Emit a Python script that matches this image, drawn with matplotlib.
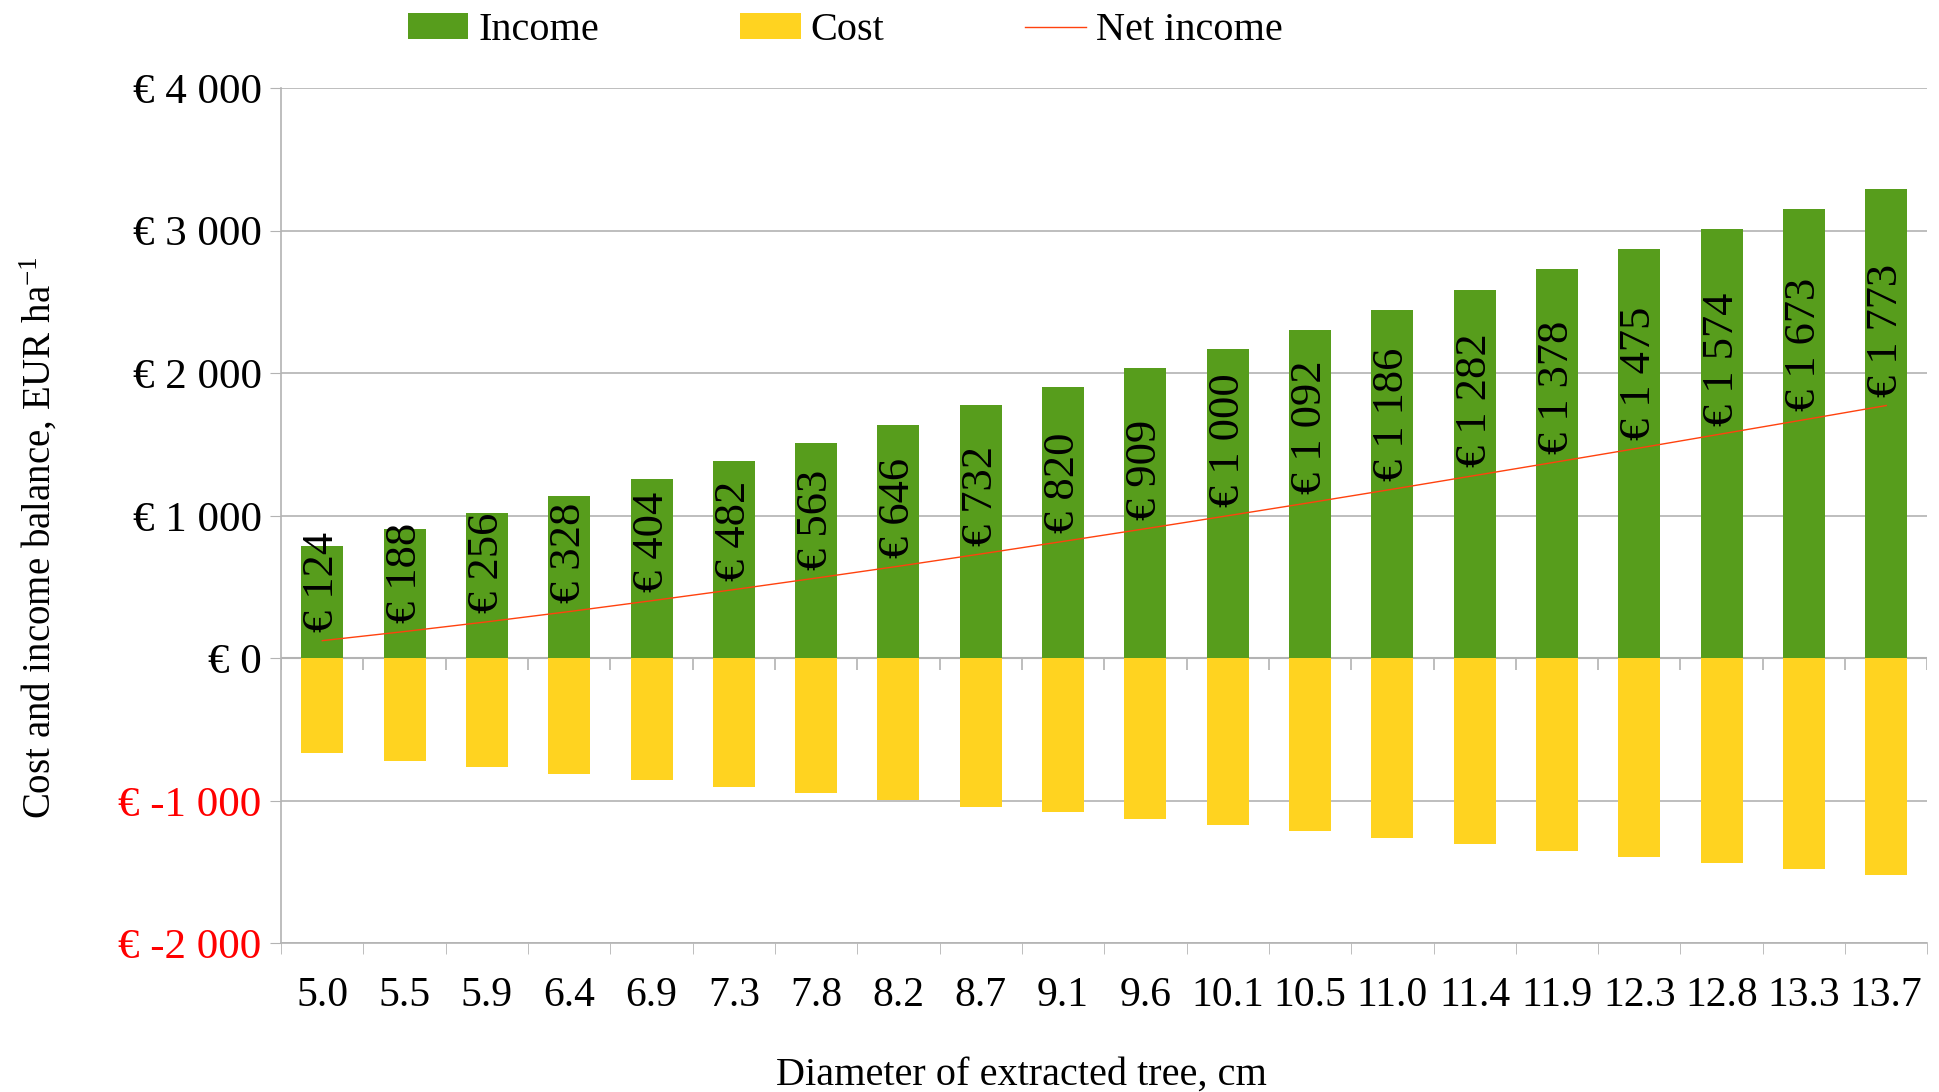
import numpy as np
import matplotlib
matplotlib.use('Agg')
import matplotlib.pyplot as plt
from matplotlib.ticker import FuncFormatter, FixedLocator

plt.rcParams['font.family'] = ['Liberation Serif', 'DejaVu Serif']
plt.rcParams['mathtext.fontset'] = 'custom'
plt.rcParams['mathtext.rm'] = 'Liberation Serif'
plt.rcParams['mathtext.it'] = 'Liberation Serif:italic'

# diameter classes (cm)
diameters = ['5.0', '5.5', '5.9', '6.4', '6.9', '7.3', '7.8', '8.2', '8.7', '9.1',
             '9.6', '10.1', '10.5', '11.0', '11.4', '11.9', '12.3', '12.8', '13.3', '13.7']
income = [789, 908, 1022, 1136, 1258, 1386, 1509, 1637, 1776, 1900,
          2036, 2170, 2306, 2446, 2585, 2731, 2870, 3010, 3149, 3295]
cost = [-665, -718, -764, -808, -854, -903, -946, -991, -1044, -1080,
        -1127, -1170, -1214, -1260, -1303, -1352, -1395, -1436, -1476, -1522]
net_income = [124, 188, 256, 328, 404, 482, 563, 646, 732, 820,
              909, 1000, 1092, 1186, 1282, 1378, 1475, 1574, 1673, 1773]

green = '#579d1c'
yellow = '#ffd320'
red = '#ff420e'
grid_c = '#b3b3b3'

fig = plt.figure(figsize=(19.39, 10.92), dpi=100)
ax = fig.add_axes([0.145, 0.136, 0.849, 0.7834])

x = np.arange(len(diameters))
b1 = ax.bar(x, income, width=0.51, color=green, label='Income', zorder=2)
b2 = ax.bar(x, cost, width=0.51, color=yellow, label='Cost', zorder=2)
ln, = ax.plot(x, net_income, color=red, lw=1.0, label='Net income', zorder=3)

for xi, v in zip(x, net_income):
    lab = '€ ' + f'{v:,}'.replace(',', ' ')
    ax.annotate(lab, (xi, v), xytext=(0, 6), textcoords='offset points',
                rotation=90, ha='center', va='bottom', fontsize=32, zorder=4)

ax.set_xlim(-0.5, len(diameters) - 0.5)
ax.set_ylim(-2000, 4000)
ax.set_yticks(np.arange(-2000, 4001, 1000))

def eur(v, pos):
    return '€ ' + f'{int(v):,}'.replace(',', ' ')

ax.yaxis.set_major_formatter(FuncFormatter(eur))
for t, v in zip(ax.get_yticklabels(), ax.get_yticks()):
    t.set_color('red' if v < 0 else 'black')

ax.set_xticks(x)
ax.set_xticklabels(diameters)
ax.xaxis.set_minor_locator(FixedLocator(np.arange(-0.5, len(diameters), 1.0)))
ax.tick_params(axis='x', which='major', length=0, pad=24, labelsize=30)
ax.tick_params(axis='x', which='minor', length=8, color=grid_c, direction='out')
ax.tick_params(axis='y', length=8, color=grid_c, pad=6, labelsize=31)

ax.grid(axis='y', color=grid_c, lw=1.2, zorder=0)
ax.set_axisbelow(True)
for s in ['top', 'right']:
    ax.spines[s].set_visible(False)
ax.spines['left'].set_color(grid_c)
ax.spines['bottom'].set_color(grid_c)
ax.spines['left'].set_linewidth(1.2)
ax.spines['bottom'].set_linewidth(1.2)

# axis line at zero with category boundary ticks
ax.axhline(0, color=grid_c, lw=1.5, zorder=1)
ax.vlines(np.arange(-0.5, len(diameters), 1.0), -80, 0, color=grid_c, lw=1.2, zorder=1)

ax.set_ylabel('Cost and income balance, EUR ha$^{-1}$', fontsize=28)
ax.yaxis.set_label_coords(-0.1346, 0.474)
ax.set_xlabel('Diameter of extracted tree, cm', fontsize=29)
ax.xaxis.set_label_coords(0.4496, -0.132)

fig.legend([b1, b2, ln], ['Income', 'Cost', 'Net income'],
           loc='upper center', bbox_to_anchor=(0.436, 1.022), ncol=3, frameon=False,
           fontsize=29, handlelength=1.5, handleheight=0.6, columnspacing=3.5,
           handletextpad=0.25)

fig.savefig('out.png', dpi=100)
